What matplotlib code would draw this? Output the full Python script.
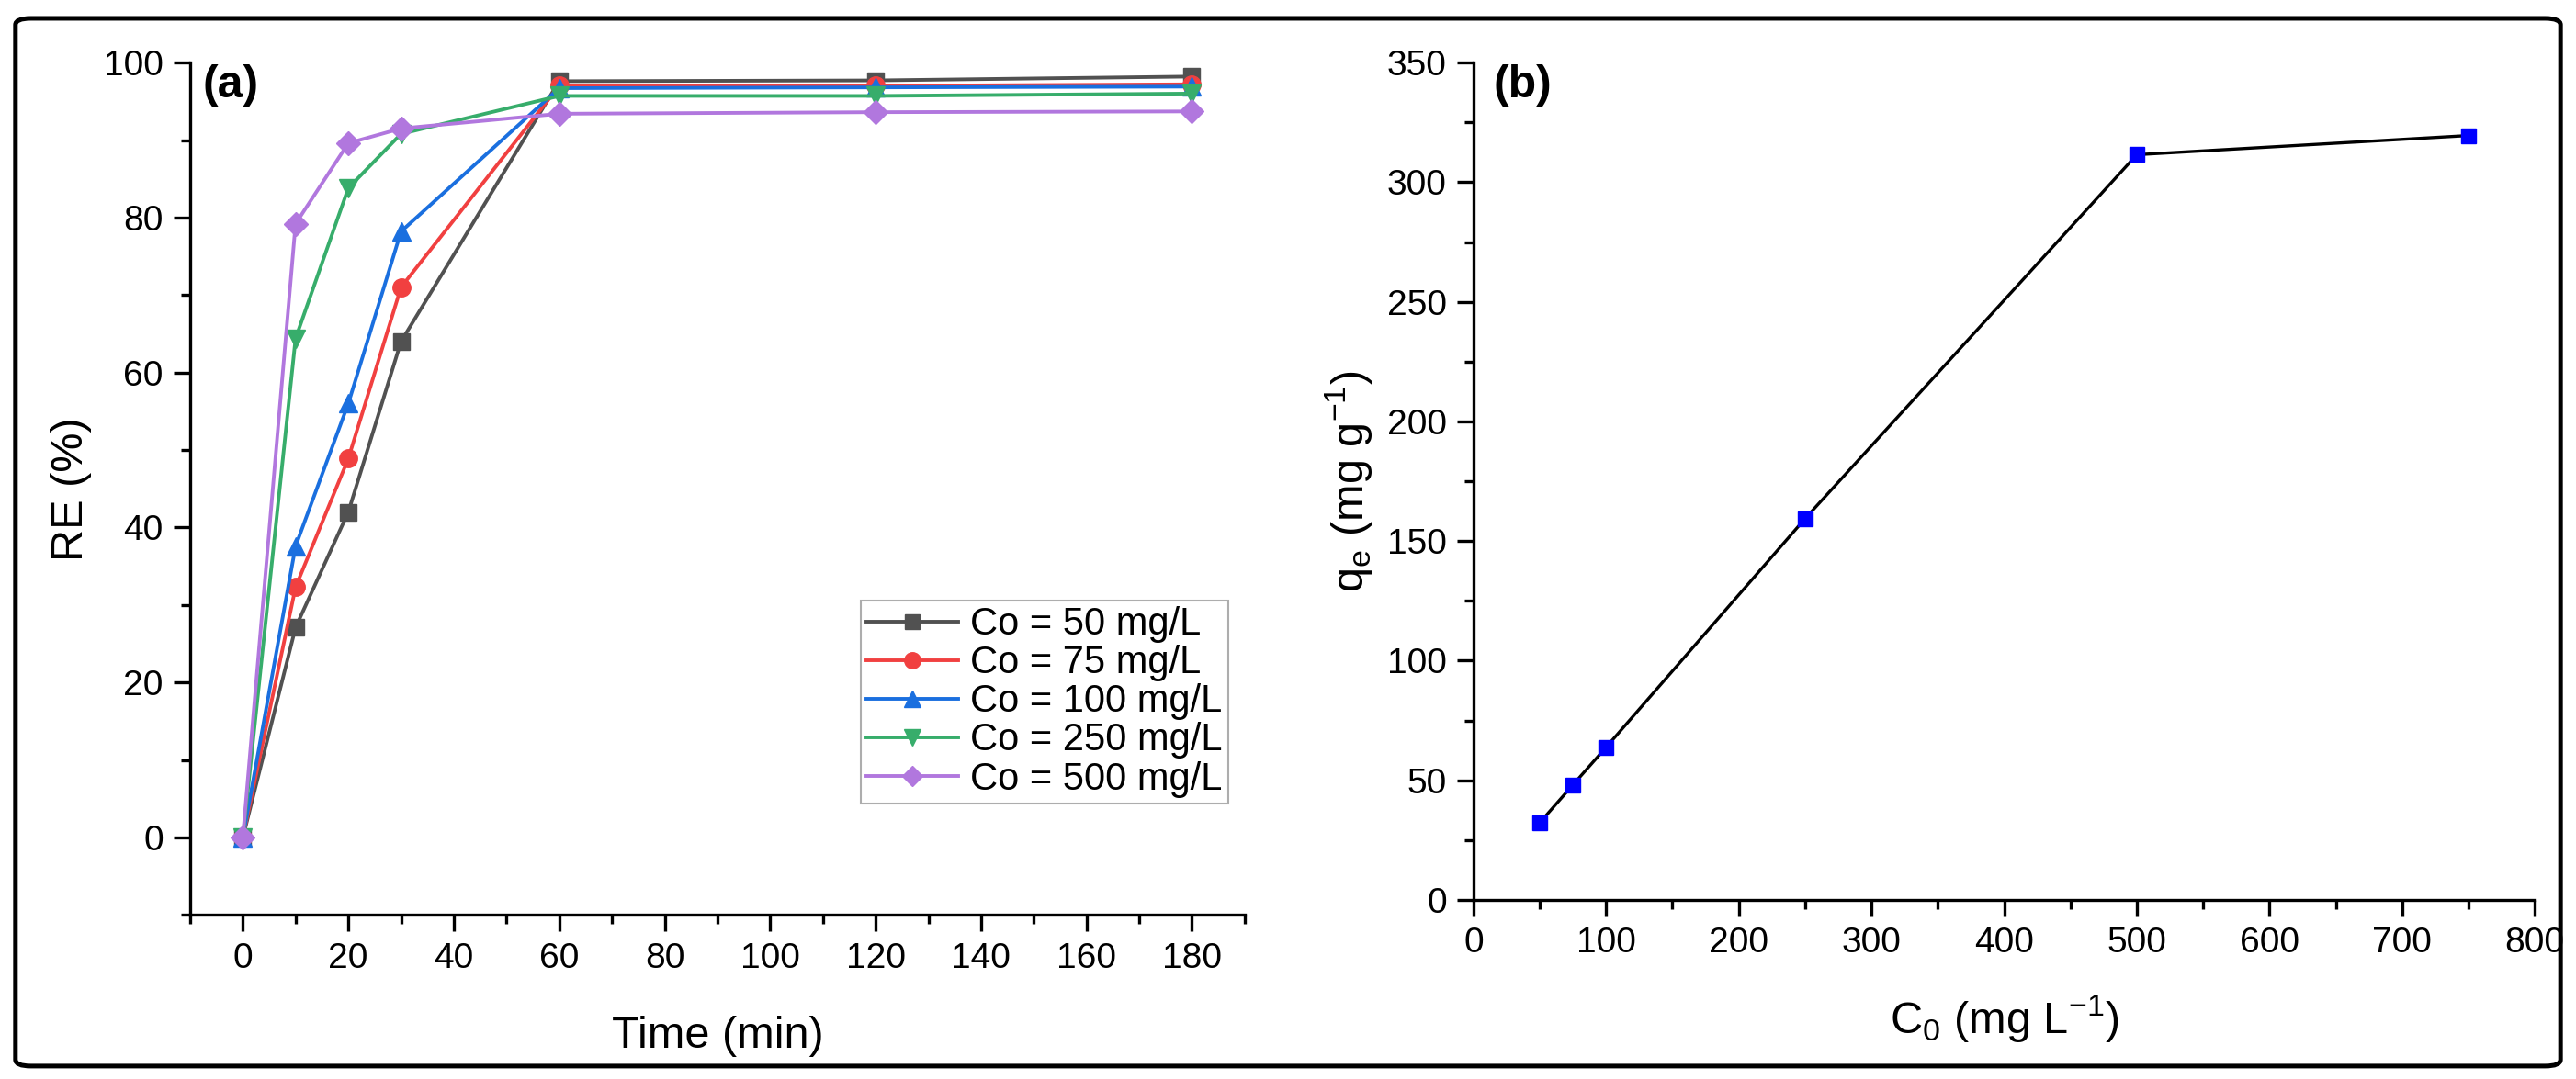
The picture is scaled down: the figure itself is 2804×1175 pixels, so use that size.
import matplotlib
matplotlib.use("Agg")
import matplotlib.pyplot as plt
from matplotlib.ticker import MultipleLocator
from matplotlib.patches import FancyBboxPatch

plt.rcParams['font.family'] = ['Liberation Sans', 'DejaVu Sans']
plt.rcParams['mathtext.fontset'] = 'custom'
plt.rcParams['mathtext.rm'] = 'Liberation Sans'

# ---- data panel (a) ----
time_min = [0, 10, 20, 30, 60, 120, 180]
re_50 = [0, 27.1, 42.0, 64.0, 97.6, 97.7, 98.2]
re_75 = [0, 32.3, 48.9, 71.0, 97.0, 97.0, 97.2]
re_100 = [0, 37.6, 56.0, 78.2, 96.7, 96.8, 96.9]
re_250 = [0, 64.4, 83.8, 90.8, 95.7, 95.7, 96.0]
re_500 = [0, 79.2, 89.6, 91.5, 93.4, 93.6, 93.7]
series_labels = ['Co = 50 mg/L', 'Co = 75 mg/L', 'Co = 100 mg/L',
                 'Co = 250 mg/L', 'Co = 500 mg/L']

# ---- data panel (b) ----
c0 = [50, 75, 100, 250, 500, 750]
qe = [32.3, 48.1, 63.8, 159.4, 311.5, 319.5]

colors = ['#515151', '#F14040', '#1A6FDF', '#37AD6B', '#B177DE']
markers = ['s', 'o', '^', 'v', 'D']
msizes = [13, 14, 15, 15, 13]

fig = plt.figure(figsize=(28.04, 11.75), dpi=100)

TICK_FS = 28
LABEL_FS = 35

def style_axes(ax):
    for s in ['top', 'right']:
        ax.spines[s].set_visible(False)
    for s in ['left', 'bottom']:
        ax.spines[s].set_linewidth(2.4)
    ax.tick_params(which='major', direction='out', length=13, width=2.4,
                   labelsize=TICK_FS, pad=8)
    ax.tick_params(which='minor', direction='out', length=7, width=2.4)

# panel (a)
ax1 = fig.add_axes([0.0738, 0.152, 0.4094, 0.790])
series = [re_50, re_75, re_100, re_250, re_500]
for y, c, m, ms, lab in zip(series, colors, markers, msizes, series_labels):
    ax1.plot(time_min, y, color=c, marker=m, markersize=ms, linewidth=2.8,
             label=lab, clip_on=False)
ax1.set_xlim(-10, 190)
ax1.set_ylim(-10, 100)
ax1.xaxis.set_minor_locator(MultipleLocator(10))
ax1.yaxis.set_minor_locator(MultipleLocator(10))
ax1.set_xticks(range(0, 181, 20))
ax1.set_yticks(range(0, 101, 20))
style_axes(ax1)
ax1.set_xlabel('Time (min)', fontsize=LABEL_FS, labelpad=32)
ax1.set_ylabel('RE (%)', fontsize=LABEL_FS, labelpad=9)
ax1.text(0.012, 0.998, '(a)', transform=ax1.transAxes, fontsize=36,
         fontweight='bold', va='top', ha='left')
leg = ax1.legend(loc='lower right', bbox_to_anchor=(0.984, 0.131),
                 fontsize=30, frameon=True, fancybox=False,
                 edgecolor='#999999', borderaxespad=0, handlelength=2.4,
                 handletextpad=0.3, labelspacing=0.05, borderpad=0.15,
                 markerscale=0.9)
leg.get_frame().set_linewidth(1.5)

# panel (b)
ax2 = fig.add_axes([0.572, 0.166, 0.412, 0.776])
ax2.plot(c0, qe, color='black', linewidth=2.4, marker='s', markersize=12,
         markerfacecolor='#0000FF', markeredgecolor='#0000FF', clip_on=False)
ax2.set_xlim(0, 800)
ax2.set_ylim(0, 350)
ax2.xaxis.set_major_locator(MultipleLocator(100))
ax2.xaxis.set_minor_locator(MultipleLocator(50))
ax2.yaxis.set_major_locator(MultipleLocator(50))
ax2.yaxis.set_minor_locator(MultipleLocator(25))
style_axes(ax2)
ax2.set_xlabel(r'C$_\mathregular{0}$ (mg L$^\mathregular{-1}$)', fontsize=LABEL_FS, labelpad=26)
ax2.set_ylabel(r'q$_\mathregular{e}$ (mg g$^\mathregular{-1}$)', fontsize=LABEL_FS, labelpad=10)
ax2.text(0.019, 0.998, '(b)', transform=ax2.transAxes, fontsize=36,
         fontweight='bold', va='top', ha='left')

# outer border
border = FancyBboxPatch((0.006, 0.012), 0.988, 0.971,
                        boxstyle='round,pad=0,rounding_size=0.006',
                        transform=fig.transFigure, fill=False,
                        edgecolor='black', linewidth=3.6)
fig.patches.append(border)

fig.savefig('out.png', dpi=100)
